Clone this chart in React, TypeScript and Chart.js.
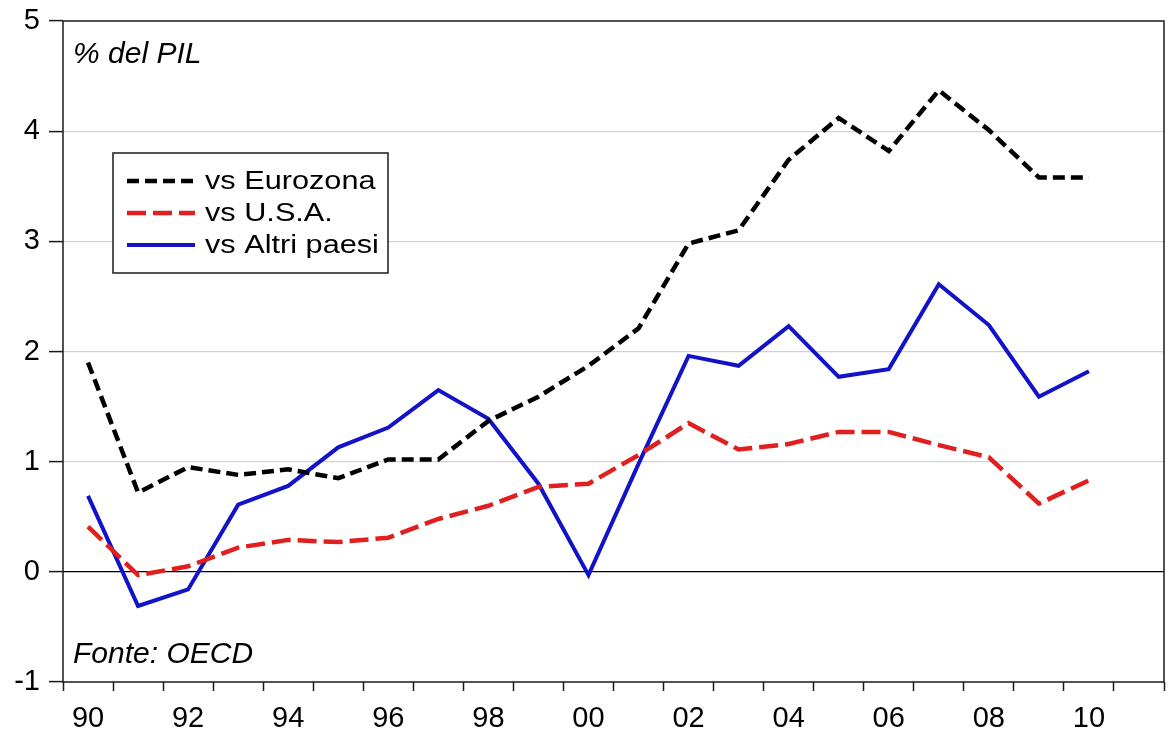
import React, { useEffect, useRef } from 'react';
import { Chart, registerables } from 'chart.js';

Chart.register(...registerables);

const yearLabels = ['1990', '1991', '1992', '1993', '1994', '1995', '1996', '1997', '1998', '1999', '2000',
  '2001', '2002', '2003', '2004', '2005', '2006', '2007', '2008', '2009', '2010', '2011'];

const eurozona = [1.9, 0.72, 0.95, 0.88, 0.93, 0.85, 1.02, 1.02, 1.37, 1.59, 1.87,
  2.21, 2.98, 3.1, 3.74, 4.12, 3.82, 4.37, 4.01, 3.58, 3.58];
const usa = [0.41, -0.03, 0.05, 0.22, 0.29, 0.27, 0.31, 0.48, 0.6, 0.77, 0.8,
  1.06, 1.35, 1.11, 1.16, 1.27, 1.27, 1.15, 1.04, 0.62, 0.83];
const altri = [0.69, -0.31, -0.16, 0.61, 0.78, 1.13, 1.31, 1.65, 1.39, 0.8, -0.03,
  0.98, 1.96, 1.87, 2.23, 1.77, 1.84, 2.61, 2.24, 1.59, 1.82];

const seriesNames = ['vs Eurozona', 'vs U.S.A.', 'vs Altri paesi'];
const yMin = -1;
const yMax = 5;
const topNote = '% del PIL';
const sourceNote = 'Fonte: OECD';

const FONT = '"Liberation Sans", Arial, sans-serif';

const framePlugin = {
  id: 'frameAndNotes',
  afterDraw(chart: any) {
    const { ctx, chartArea: a } = chart;
    ctx.save();
    ctx.setLineDash([]);
    ctx.strokeStyle = '#1a1a1a';
    ctx.lineWidth = 1.5;
    ctx.strokeRect(a.left, a.top, a.right - a.left, a.bottom - a.top);

    ctx.fillStyle = '#000';
    ctx.font = `italic 30px ${FONT}`;
    ctx.textAlign = 'left';
    ctx.textBaseline = 'alphabetic';
    ctx.fillText(topNote, a.left + 10, a.top + 42);
    ctx.fillText(sourceNote, a.left + 10, a.bottom - 19);

    // legend box
    const bx = a.left + 50, by = a.top + 132, bw = 275, bh = 120;
    ctx.fillStyle = '#fff';
    ctx.fillRect(bx, by, bw, bh);
    ctx.strokeStyle = '#1a1a1a';
    ctx.lineWidth = 1.5;
    ctx.strokeRect(bx, by, bw, bh);
    chart.data.datasets.forEach((ds: any, i: number) => {
      const cy = by + 28 + 32 * i;
      ctx.save();
      ctx.beginPath();
      ctx.setLineDash(ds.borderDash || []);
      ctx.strokeStyle = ds.borderColor;
      ctx.lineWidth = ds.borderWidth;
      ctx.lineCap = 'butt';
      ctx.moveTo(bx + 14, cy);
      ctx.lineTo(bx + 82, cy);
      ctx.stroke();
      ctx.restore();
      ctx.save();
      ctx.translate(bx + 92, cy + 1);
      ctx.scale(1.18, 1);
      ctx.fillStyle = '#000';
      ctx.font = `26px ${FONT}`;
      ctx.textAlign = 'left';
      ctx.textBaseline = 'middle';
      ctx.fillText(ds.label, 0, 0);
      ctx.restore();
    });
    ctx.restore();
  },
};

export default function App() {
  const canvasRef = useRef<HTMLCanvasElement | null>(null);

  useEffect(() => {
    document.body.style.margin = '0';
    const canvas = canvasRef.current;
    if (!canvas) return;
    const chart = new Chart(canvas, {
      type: 'line',
      data: {
        labels: yearLabels,
        datasets: [
          {
            label: seriesNames[0],
            data: eurozona,
            borderColor: '#000000',
            borderWidth: 4.5,
            borderDash: [12, 6],
            pointRadius: 0,
            tension: 0,
            fill: false,
          },
          {
            label: seriesNames[1],
            data: usa,
            borderColor: '#e21f1f',
            borderWidth: 4.5,
            borderDash: [19, 7],
            pointRadius: 0,
            tension: 0,
            fill: false,
          },
          {
            label: seriesNames[2],
            data: altri,
            borderColor: '#1212c8',
            borderWidth: 4,
            pointRadius: 0,
            tension: 0,
            fill: false,
          },
        ],
      },
      options: {
        animation: false,
        responsive: false,
        maintainAspectRatio: false,
        devicePixelRatio: 1,
        layout: { padding: { left: 0, top: 21, right: 6, bottom: 0 } },
        plugins: {
          legend: { display: false },
          tooltip: { enabled: false },
        },
        scales: {
          x: {
            type: 'category',
            offset: true,
            border: { display: false },
            grid: {
              offset: true,
              drawOnChartArea: false,
              drawTicks: true,
              tickLength: 9,
              tickColor: '#1a1a1a',
              tickWidth: 1.5,
            },
            ticks: {
              autoSkip: false,
              maxRotation: 0,
              minRotation: 0,
              padding: 11,
              color: '#000',
              font: { family: FONT, size: 29 },
              callback: (_v: any, idx: number) => (idx % 2 === 0 ? yearLabels[idx].slice(2) : ''),
            },
            afterFit: (scale: any) => {
              scale.height = 56;
              scale.paddingLeft = 0;
              scale.paddingRight = 0;
            },
          },
          y: {
            min: yMin,
            max: yMax,
            border: { display: false },
            grid: {
              color: (c: any) => {
                const v = c.tick ? c.tick.value : null;
                if (v === 0) return '#000000';
                if (v === yMin || v === yMax) return 'rgba(0,0,0,0)';
                return '#d2d2d2';
              },
              lineWidth: 1.2,
              tickColor: '#1a1a1a',
              tickLength: 14,
              tickWidth: 1.5,
            },
            ticks: {
              stepSize: 1,
              padding: 9,
              color: '#000',
              font: { family: FONT, size: 29 },
            },
            afterFit: (scale: any) => {
              scale.width = 63;
              scale.paddingTop = 0;
              scale.paddingBottom = 0;
            },
          },
        },
      },
      plugins: [framePlugin],
    });
    return () => chart.destroy();
  }, []);

  return (
    <div style={{ width: 1170, height: 738 }}>
      <canvas ref={canvasRef} width={1170} height={738} style={{ display: 'block' }} />
    </div>
  );
}
